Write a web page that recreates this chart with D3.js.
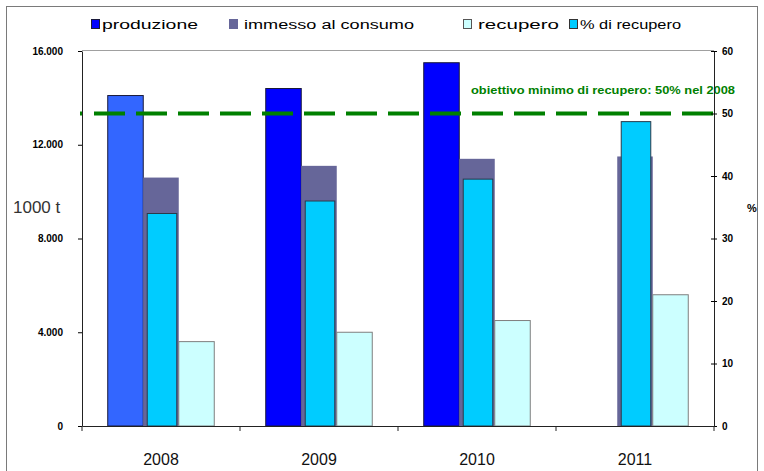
<!DOCTYPE html>
<html>
<head>
<meta charset="utf-8">
<script src="https://cdn.jsdelivr.net/npm/d3@7"></script>
<style>
  html, body { margin: 0; padding: 0; background: #fff; }
  svg { display: block; font-family: "Liberation Sans", Arial, sans-serif; }
</style>
</head>
<body>
<svg id="chart" width="764" height="471"></svg>
<script>
// Anni e serie (migliaia di tonnellate, percentuale di recupero)
const years = ["2008", "2009", "2010", "2011"];
const produzione = [14100, 14400, 15500, null];
const immesso = [10600, 11100, 11400, 11500];
const recupero = [3600, 4000, 4500, 5600];
const percRecupero = [34.0, 36.0, 39.5, 48.7];
const obiettivo = 50;
const obiettivoLabel = "obiettivo minimo di recupero: 50% nel 2008";

const leftTicks = [0, 4000, 8000, 12000, 16000];
const rightTicks = [0, 10, 20, 30, 40, 50, 60];
const seriesNames = ["produzione", "immesso al consumo", "recupero", "% di recupero"];

const svg = d3.select("#chart");
const plot = { left: 82, right: 714, top: 51, bottom: 426 };

// outer frame
svg.append("rect")
  .attr("x", 6.5).attr("y", 6.5).attr("width", 751).attr("height", 470)
  .attr("fill", "none").attr("stroke", "#7a7a7a").attr("stroke-width", 1);

const x = d3.scaleBand().domain(years).range([plot.left, plot.right]).paddingInner(0).paddingOuter(0);
const primary = ["produzione", "immesso", "recupero"];
const xi = d3.scaleBand().domain(primary).range([0, x.bandwidth()]).paddingInner(0).paddingOuter(0.725);
const yL = d3.scaleLinear().domain([0, 16000]).range([plot.bottom, plot.top]);
const yR = d3.scaleLinear().domain([0, 60]).range([plot.bottom, plot.top]);

// plot area top edge
svg.append("line")
  .attr("x1", plot.left).attr("x2", plot.right)
  .attr("y1", plot.top - 0.5).attr("y2", plot.top - 0.5)
  .attr("stroke", "#a0a0a0");

const rows = years.map((y, i) => ({
  year: y, produzione: produzione[i], immesso: immesso[i], recupero: recupero[i], perc: percRecupero[i], i
}));

const prodColor = (d) => d.i === 0 ? "#3366ff" : "#0000ff";

// produzione
svg.append("g").selectAll("rect")
  .data(rows.filter(d => d.produzione != null))
  .join("rect")
  .attr("x", d => x(d.year) + xi("produzione"))
  .attr("y", d => yL(d.produzione))
  .attr("width", xi.bandwidth())
  .attr("height", d => yL(0) - yL(d.produzione))
  .attr("fill", prodColor)
  .attr("stroke", "#1a1a3a").attr("stroke-width", 1);

// immesso al consumo
svg.append("g").selectAll("rect")
  .data(rows)
  .join("rect")
  .attr("x", d => x(d.year) + xi("immesso"))
  .attr("y", d => yL(d.immesso))
  .attr("width", xi.bandwidth())
  .attr("height", d => yL(0) - yL(d.immesso))
  .attr("fill", "#666699");

// recupero
svg.append("g").selectAll("rect")
  .data(rows)
  .join("rect")
  .attr("x", d => x(d.year) + xi("recupero"))
  .attr("y", d => yL(d.recupero))
  .attr("width", xi.bandwidth())
  .attr("height", d => yL(0) - yL(d.recupero))
  .attr("fill", "#ccffff")
  .attr("stroke", "#7f7f7f").attr("stroke-width", 1);

// % di recupero (asse secondario)
const pw = x.bandwidth() * 0.187;
svg.append("g").selectAll("rect")
  .data(rows)
  .join("rect")
  .attr("x", d => x(d.year) + x.bandwidth() / 2 - pw / 2 + 1)
  .attr("y", d => yR(d.perc))
  .attr("width", pw)
  .attr("height", d => yR(0) - yR(d.perc))
  .attr("fill", "#00ccff")
  .attr("stroke", "#2a3a4a").attr("stroke-width", 1);

// linea obiettivo
svg.append("line")
  .attr("x1", plot.left - 2).attr("x2", plot.right)
  .attr("y1", yR(obiettivo)).attr("y2", yR(obiettivo))
  .attr("stroke", "#008000").attr("stroke-width", 4)
  .attr("stroke-dasharray", "31,11").attr("stroke-dashoffset", 28);

svg.append("text")
  .attr("x", 471).attr("y", yR(obiettivo) - 20)
  .attr("fill", "#008000").attr("font-size", 11).attr("font-weight", "bold")
  .attr("textLength", 264).attr("lengthAdjust", "spacingAndGlyphs")
  .text(obiettivoLabel);

// assi
const fmt = d => d === 0 ? "0" : d3.format(",")(d).replace(/,/g, ".");
const gL = svg.append("g").attr("transform", `translate(${plot.left},0)`)
  .call(d3.axisLeft(yL).tickValues(leftTicks).tickFormat(fmt).tickSizeInner(4).tickSizeOuter(0).tickPadding(15));
gL.selectAll("text").attr("font-size", 10).attr("font-weight", "bold").attr("fill", "#000")
  .attr("font-family", "Liberation Sans, Arial, sans-serif");
gL.select(".domain").attr("stroke", "#222");

const gR = svg.append("g").attr("transform", `translate(${plot.right},0)`)
  .call(d3.axisRight(yR).tickValues(rightTicks).tickSizeInner(3).tickSizeOuter(0).tickPadding(5));
gR.selectAll(".tick line").attr("x1", -3).attr("x2", 3);
gR.selectAll("text").attr("font-size", 10).attr("font-weight", "bold").attr("fill", "#000")
  .attr("font-family", "Liberation Sans, Arial, sans-serif");
gR.select(".domain").attr("stroke", "#222");

const gX = svg.append("g").attr("transform", `translate(0,${plot.bottom})`)
  .call(d3.axisBottom(x).tickSize(0).tickPadding(28));
gX.select(".domain").attr("stroke", "#222");
gX.selectAll("text").attr("font-size", 16).attr("fill", "#111")
  .attr("font-family", "Liberation Sans, Arial, sans-serif");

// tacche tra le categorie
const bounds = years.map(y => x(y)).concat([x(years[years.length - 1]) + x.bandwidth()]);
svg.append("g").selectAll("line")
  .data(bounds)
  .join("line")
  .attr("x1", d => d).attr("x2", d => d)
  .attr("y1", plot.bottom).attr("y2", plot.bottom + 5)
  .attr("stroke", "#222");

// titoli assi
svg.append("text").attr("x", 13).attr("y", 213)
  .attr("font-size", 17).attr("fill", "#333").text("1000 t");
svg.append("text").attr("x", 747).attr("y", 212)
  .attr("font-size", 11).attr("font-weight", "bold").attr("fill", "#000").text("%");

// legenda
const legendItems = [
  { name: seriesNames[0], fill: "#0000ff", stroke: "#1a1a3a", sx: 91, tx: 102, tw: 96 },
  { name: seriesNames[1], fill: "#666699", stroke: "#666699", sx: 229, tx: 244, tw: 170 },
  { name: seriesNames[2], fill: "#ccffff", stroke: "#555", sx: 463, tx: 478, tw: 81 },
  { name: seriesNames[3], fill: "#00ccff", stroke: "#333", sx: 569, tx: 580, tw: 101 }
];
const lg = svg.append("g");
legendItems.forEach(it => {
  lg.append("rect").attr("x", it.sx + 0.5).attr("y", 19.5).attr("width", 8).attr("height", 9)
    .attr("fill", it.fill).attr("stroke", it.stroke);
  lg.append("text").attr("x", it.tx).attr("y", 29)
    .attr("font-size", 12).attr("fill", "#000")
    .attr("textLength", it.tw).attr("lengthAdjust", "spacingAndGlyphs")
    .text(it.name);
});
</script>
</body>
</html>
